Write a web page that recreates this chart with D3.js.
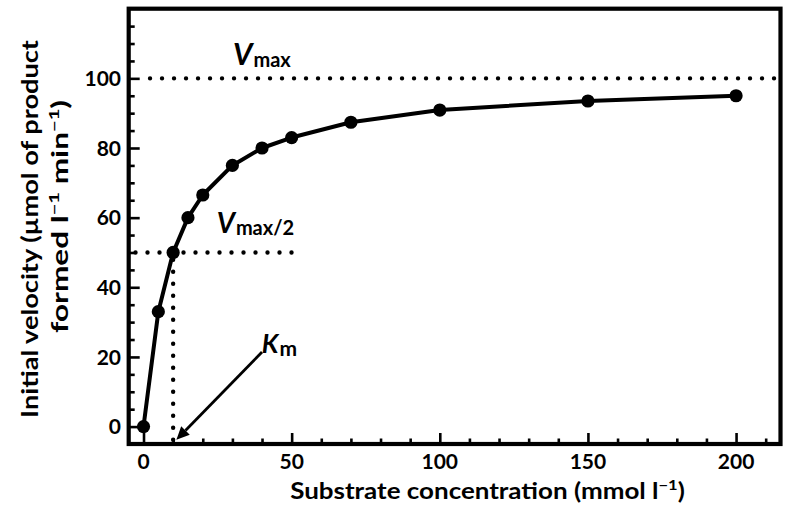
<!DOCTYPE html>
<html><head><meta charset="utf-8">
<script src="https://cdn.jsdelivr.net/npm/d3@7"></script>
<style>
body{margin:0;background:#fff}
svg{display:block}
text{font-family:Lato,"Open Sans",sans-serif;font-weight:700;fill:#000}
</style>
</head><body>
<svg id="chart" width="787" height="508"></svg>
<script>
// ---- data ----
const substrate = [0, 5, 10, 15, 20, 30, 40, 50, 70, 100, 150, 200];
const velocity  = [0, 33, 50, 60, 66.5, 75, 80, 83, 87.4, 90.9, 93.5, 95];
const xTickValues = [0, 50, 100, 150, 200];
const yTickValues = [0, 20, 40, 60, 80, 100];
const vmax = 100;
const halfVmax = 50;
const km = 10;
const xLabel = "Substrate concentration (mmol l";
const yLabel1 = "Initial velocity (\u00b5mol of product";

// ---- layout ----
const svg = d3.select("#chart");
const x = d3.scaleLinear().domain([-5, 215]).range([128.7, 780.5]);
const y = d3.scaleLinear().domain([-5, 120]).range([444, 8.7]);

const xMinor = d3.range(10, 211, 10).filter(v => v % 50 !== 0);
const yMinor = d3.range(5, 116, 5).filter(v => v % 20 !== 0);

function fitWidth(sel, target, cx, cy) {
  const w = sel.node().getBBox().width;
  const k = target / w;
  sel.attr("transform", `translate(${cx},${cy}) scale(${k},1) translate(${-cx},${-cy})`);
}

// ---- axes ticks (inward) ----
const gx = svg.append("g").attr("transform", `translate(0,${y(-5)})`);
gx.call(d3.axisBottom(x).tickValues(xTickValues).tickSize(-11).tickFormat(""));
gx.append("g").call(d3.axisBottom(x).tickValues(xMinor).tickSize(-5.5).tickFormat(""));
gx.selectAll("path.domain").remove();
gx.selectAll("line").attr("stroke", "#000").attr("stroke-width", 2.6);

const gy = svg.append("g").attr("transform", `translate(${x(-5)},0)`);
gy.call(d3.axisLeft(y).tickValues(yTickValues).tickSize(-11).tickFormat(""));
gy.append("g").call(d3.axisLeft(y).tickValues(yMinor).tickSize(-6).tickFormat(""));
gy.selectAll("path.domain").remove();
gy.selectAll("line").attr("stroke", "#000").attr("stroke-width", 2.6);

// tick labels
svg.append("g").selectAll("text").data(xTickValues).join("text")
  .attr("x", d => x(d)).attr("y", 469).attr("text-anchor", "middle")
  .attr("font-size", 21).text(d => d);
svg.append("g").selectAll("text").data(yTickValues).join("text")
  .attr("x", 121).attr("y", d => y(d)).attr("dy", "0.36em").attr("text-anchor", "end")
  .attr("font-size", 21).text(d => d);

// ---- frame ----
svg.append("rect")
  .attr("x", x(-5)).attr("y", y(120))
  .attr("width", x(215) - x(-5)).attr("height", y(-5) - y(120))
  .attr("fill", "none").attr("stroke", "#000").attr("stroke-width", 4.2);

// ---- dotted reference lines ----
function dotted(x1, y1, x2, y2) {
  svg.append("line")
    .attr("x1", x1).attr("y1", y1).attr("x2", x2).attr("y2", y2)
    .attr("stroke", "#000").attr("stroke-width", 4.4)
    .attr("stroke-linecap", "round").attr("stroke-dasharray", "0 12");
}
dotted(x(2.2), y(vmax), x(213), y(vmax));
dotted(x(-2.7), y(halfVmax), x(50.3), y(halfVmax));
dotted(x(km), y(-3.8), x(km), y(halfVmax));

// ---- data line + markers ----
const pts = substrate.map((s, i) => [s, velocity[i]]);
svg.append("path").datum(pts)
  .attr("d", d3.line().x(d => x(d[0])).y(d => y(d[1])))
  .attr("fill", "none").attr("stroke", "#000").attr("stroke-width", 4)
  .attr("stroke-linejoin", "round");
svg.append("g").selectAll("circle").data(pts).join("circle")
  .attr("cx", d => x(d[0])).attr("cy", d => y(d[1])).attr("r", 6.6).attr("fill", "#000");

// ---- Km arrow ----
const tail = [x(40), y(21.4)], tip = [x(11.1), y(-3.8)];
const ang = Math.atan2(tip[1] - tail[1], tip[0] - tail[0]);
const hl = 13, hw = 6;
const base = [tip[0] - hl * Math.cos(ang), tip[1] - hl * Math.sin(ang)];
svg.append("line").attr("x1", tail[0]).attr("y1", tail[1])
  .attr("x2", base[0]).attr("y2", base[1])
  .attr("stroke", "#000").attr("stroke-width", 2.8);
svg.append("path")
  .attr("d", `M${tip[0]},${tip[1]} L${base[0] + hw * Math.sin(ang)},${base[1] - hw * Math.cos(ang)} L${base[0] - hw * Math.sin(ang)},${base[1] + hw * Math.cos(ang)} Z`)
  .attr("fill", "#000");

// ---- annotation labels ----
function symLabel(xv, yv, main, sub, mainSize, subSize, subDy) {
  const t = svg.append("text").attr("x", x(xv)).attr("y", y(yv));
  t.append("tspan").attr("font-style", "italic").attr("font-size", mainSize).text(main);
  t.append("tspan").attr("font-size", subSize).attr("dx", 1).attr("dy", subDy).text(sub);
  return t;
}
symLabel(30.2, 103.8, "V", "max", 30, 20, 2);
symLabel(24.7, 55.6, "V", "max/2", 28, 20, 2);
symLabel(39.9, 21.1, "K", "m", 26, 21, 3);

// ---- axis titles ----
const xt = svg.append("text").attr("x", 487.5).attr("y", 499).attr("text-anchor", "middle").attr("font-size", 22);
xt.append("tspan").text(xLabel);
xt.append("tspan").attr("font-size", 14).attr("dy", -9).text("\u22121");
xt.append("tspan").attr("dy", 9).text(")");
fitWidth(xt, 395, 487.5, 499);

const yt1 = svg.append("text")
  .attr("x", -229).attr("y", 38).attr("text-anchor", "middle").attr("font-size", 22)
  .attr("transform", "rotate(-90)").text(yLabel1);
const yt2 = svg.append("text")
  .attr("x", -216.5).attr("y", 68).attr("text-anchor", "middle").attr("font-size", 22)
  .attr("transform", "rotate(-90)");
yt2.append("tspan").text("formed l");
yt2.append("tspan").attr("font-size", 14).attr("dy", -9).text("\u22121");
yt2.append("tspan").attr("dy", 9).text(" min");
yt2.append("tspan").attr("font-size", 14).attr("dy", -9).text("\u22121");
yt2.append("tspan").attr("dy", 9).text(")");
function fitRot(sel, target, cx, cy) {
  const w = sel.node().getComputedTextLength();
  const k = target / w;
  sel.attr("transform", `rotate(-90) translate(${-cy},${cx}) scale(${k},1) translate(${cy},${-cx})`);
}
fitRot(yt1, 378, 38, 229);
fitRot(yt2, 233, 68, 216.5);
</script>
</body></html>
